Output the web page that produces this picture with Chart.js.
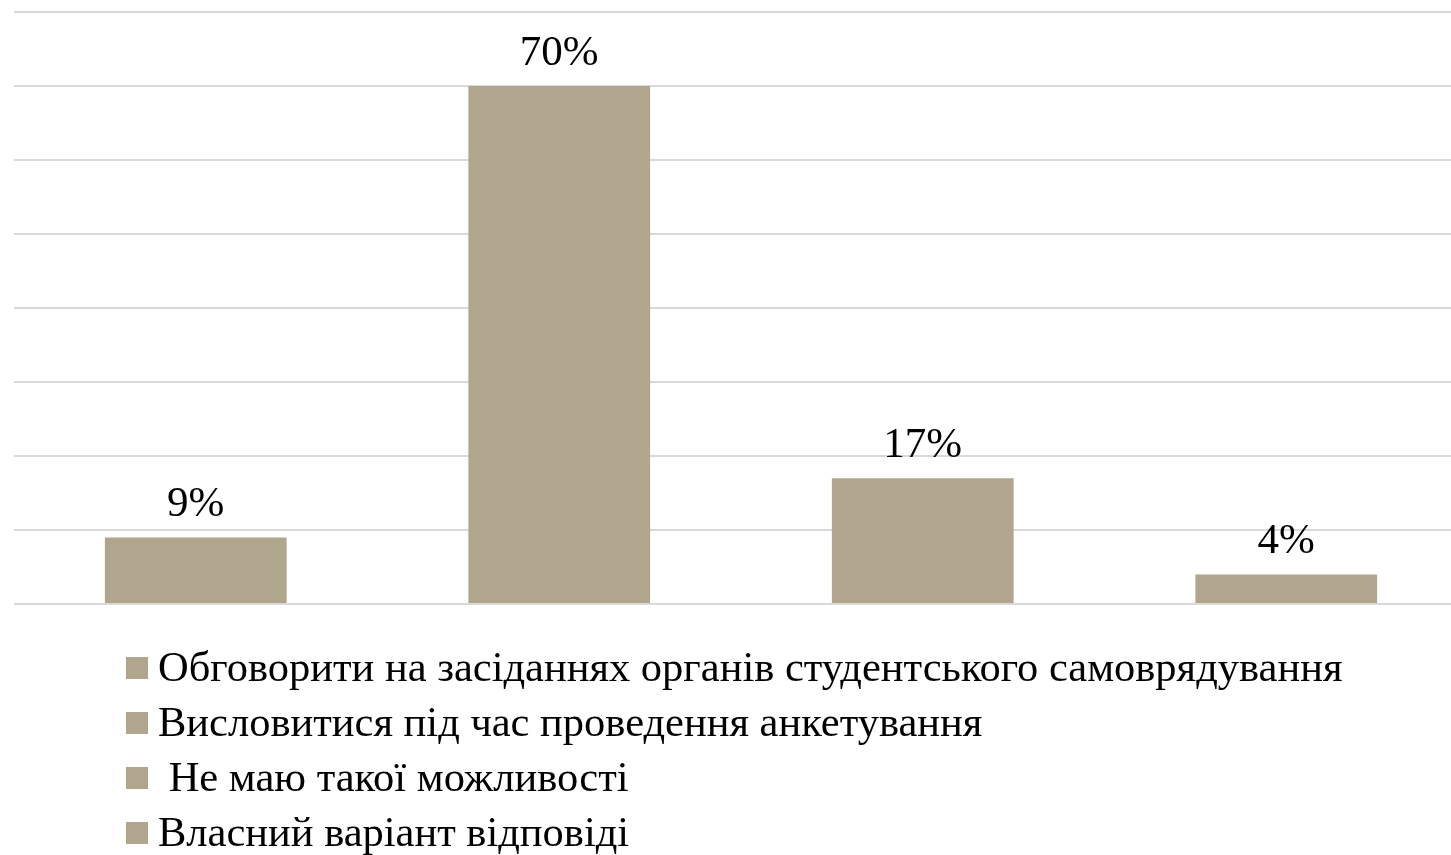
<!DOCTYPE html>
<html>
<head>
<meta charset="utf-8">
<script src="https://cdn.jsdelivr.net/npm/chart.js@4"></script>
<style>
    html, body { margin: 0; padding: 0; background: #fff; overflow: hidden; }
    #wrap { width: 1468px; height: 855px; position: relative; }
</style>
</head>
<body>
<div id="wrap"><canvas id="chart"></canvas></div>
<script>
// Chart data
const categories = [
    'Обговорити на засіданнях органів студентського самоврядування',
    'Висловитися під час проведення анкетування',
    ' Не маю такої можливості',
    'Власний варіант відповіді'
];
const values = [9, 70, 17, 4];
const yTicks = [0, 10, 20, 30, 40, 50, 60, 70, 80];

const barColor = '#B0A68E';
const serif = "'Liberation Serif', 'Times New Roman', serif";

// Value labels above each bar
const valueLabels = {
    id: 'valueLabels',
    afterDatasetsDraw(chart) {
        const ctx = chart.ctx;
        const meta = chart.getDatasetMeta(0);
        ctx.save();
        ctx.font = '43px ' + serif;
        ctx.fillStyle = '#000';
        ctx.textAlign = 'center';
        ctx.textBaseline = 'alphabetic';
        meta.data.forEach((bar, i) => {
            ctx.fillText(values[i] + '%', bar.x, bar.y - 21);
        });
        ctx.restore();
    }
};

// Vertical legend below the plot, one row per category
const columnLegend = {
    id: 'columnLegend',
    afterDraw(chart) {
        const ctx = chart.ctx;
        const x0 = 126;
        const y0 = 668;
        const rowGap = 55;
        const box = 22;
        ctx.save();
        ctx.font = '42.5px ' + serif;
        ctx.textBaseline = 'middle';
        ctx.textAlign = 'left';
        categories.forEach((label, i) => {
            const cy = y0 + i * rowGap;
            ctx.fillStyle = barColor;
            ctx.fillRect(x0, cy - box / 2, box, box);
            ctx.fillStyle = '#000';
            ctx.fillText(label, x0 + box + 10, cy + 2);
        });
        ctx.restore();
    }
};

new Chart(document.getElementById('chart'), {
    type: 'bar',
    data: {
        labels: categories,
        datasets: [{
            data: values,
            backgroundColor: barColor,
            categoryPercentage: 1.0,
            barPercentage: 0.5
        }]
    },
    options: {
        responsive: true,
        maintainAspectRatio: false,
        animation: false,
        layout: { padding: { left: 14, right: 0, top: 12, bottom: 251 } },
        plugins: {
            legend: { display: false },
            tooltip: { enabled: false }
        },
        scales: {
            x: { display: false },
            y: {
                min: yTicks[0],
                max: yTicks[yTicks.length - 1],
                afterBuildTicks(scale) {
                    scale.ticks = yTicks.map(v => ({ value: v }));
                },
                ticks: { display: false },
                border: { display: false },
                grid: { color: '#d9d9d9', lineWidth: 2, drawTicks: false }
            }
        }
    },
    plugins: [valueLabels, columnLegend]
});
</script>
</body>
</html>
